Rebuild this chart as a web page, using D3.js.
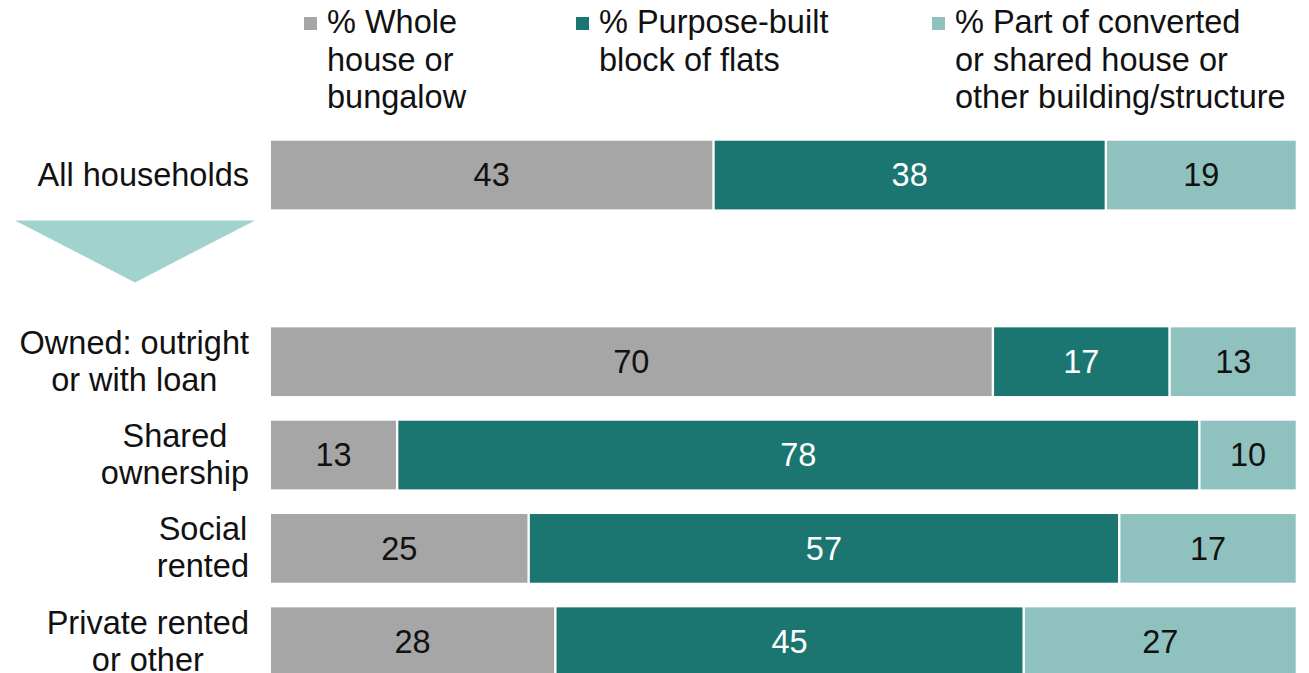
<!DOCTYPE html>
<html>
<head>
<meta charset="utf-8">
<script src="https://cdn.jsdelivr.net/npm/d3@7"></script>
<style>
  html, body { margin: 0; padding: 0; background: #fff; }
  svg { display: block; font-family: "Liberation Sans", Arial, sans-serif; }
</style>
</head>
<body>
<svg id="chart" width="1309" height="673"></svg>
<script>
// ---- Data ----
const categories = ["All households", "Owned: outright\nor with loan", "Shared\nownership", "Social\nrented", "Private rented\nor other"];
const seriesNames = ["% Whole\nhouse or\nbungalow", "% Purpose-built\nblock of flats", "% Part of converted\nor shared house or\nother building/structure"];
const wholeHouse   = [43.2, 70.4, 12.4, 25.2, 27.8];
const purposeBuilt = [38.2, 17.2, 78.1, 57.5, 45.6];
const converted    = [18.6, 12.4,  9.5, 17.3, 26.6];
const wholeHouseLabels   = [43, 70, 13, 25, 28];
const purposeBuiltLabels = [38, 17, 78, 57, 45];
const convertedLabels    = [19, 13, 10, 17, 27];
const colors = ["#a6a6a6", "#1b7672", "#8fc2bf"];
const labelColors = ["#111", "#fff", "#111"];
const arrowColor = "#a2d2ce";

// ---- Layout ----
const svg = d3.select("#chart");
const FS = 32.5;
const keys = ["whole", "purpose", "converted"];
const labelsByKey = { whole: wholeHouseLabels, purpose: purposeBuiltLabels, converted: convertedLabels };
const rows = categories.map((c, i) => ({ cat: c, whole: wholeHouse[i], purpose: purposeBuilt[i], converted: converted[i], idx: i }));

const GAP = "__gap";
const yDomain = [categories[0], GAP, ...categories.slice(1)];
const y = d3.scaleBand().domain(yDomain).range([140.7, 140.7 + 5 * 93.33 + 68.7]).paddingInner(0.264).paddingOuter(0);
const x = d3.scaleLinear().domain([0, 100]).range([269.8, 1296.9]);

const stack = d3.stack().keys(keys);
const series = stack(rows);
const inset = 1.2;

const g = svg.append("g");
series.forEach((s, si) => {
  const grp = g.append("g");
  grp.selectAll("rect").data(s).join("rect")
    .attr("x", d => x(d[0]) + inset)
    .attr("y", d => y(d.data.cat))
    .attr("width", d => Math.max(0, x(d[1]) - x(d[0]) - 2 * inset))
    .attr("height", y.bandwidth())
    .attr("fill", colors[si]);
  grp.selectAll("text").data(s).join("text")
    .attr("x", d => (x(d[0]) + x(d[1])) / 2)
    .attr("y", d => y(d.data.cat) + y.bandwidth() / 2)
    .attr("dy", "0.35em")
    .attr("text-anchor", "middle")
    .attr("font-size", FS)
    .attr("fill", labelColors[si])
    .text(d => labelsByKey[s.key][d.data.idx]);
});

// Category labels: block right-aligned at x=249, lines centred within block
const LH = 37;
const labelRight = 249;
categories.forEach(c => {
  const lines = c.split("\n");
  const cy = y(c) + y.bandwidth() / 2;
  const t = svg.append("text")
    .attr("text-anchor", "middle")
    .attr("font-size", FS)
    .attr("fill", "#111");
  const spans = lines.map((ln, li) =>
    t.append("tspan")
      .attr("y", cy + 10.5 - (lines.length - 1) * LH / 2 + li * LH)
      .text(ln));
  const maxW = d3.max(spans, s => s.node().getComputedTextLength());
  spans.forEach(s => s.attr("x", labelRight - maxW / 2));
});

// Arrow triangle in the gap row
const gy = y(categories[0]) + y.bandwidth();
svg.append("path")
  .attr("d", `M15,${gy + 11} L255,${gy + 11} L135,${gy + 73} Z`)
  .attr("fill", arrowColor);

// Legend
const legendX = [304, 576, 932];
seriesNames.forEach((name, i) => {
  svg.append("rect")
    .attr("x", legendX[i]).attr("y", 17)
    .attr("width", 13).attr("height", 13)
    .attr("fill", colors[i]);
  const t = svg.append("text").attr("font-size", FS).attr("fill", "#111");
  name.split("\n").forEach((ln, li) => {
    t.append("tspan").attr("x", legendX[i] + 23).attr("y", 33 + li * 37.5).text(ln);
  });
});
</script>
</body>
</html>
